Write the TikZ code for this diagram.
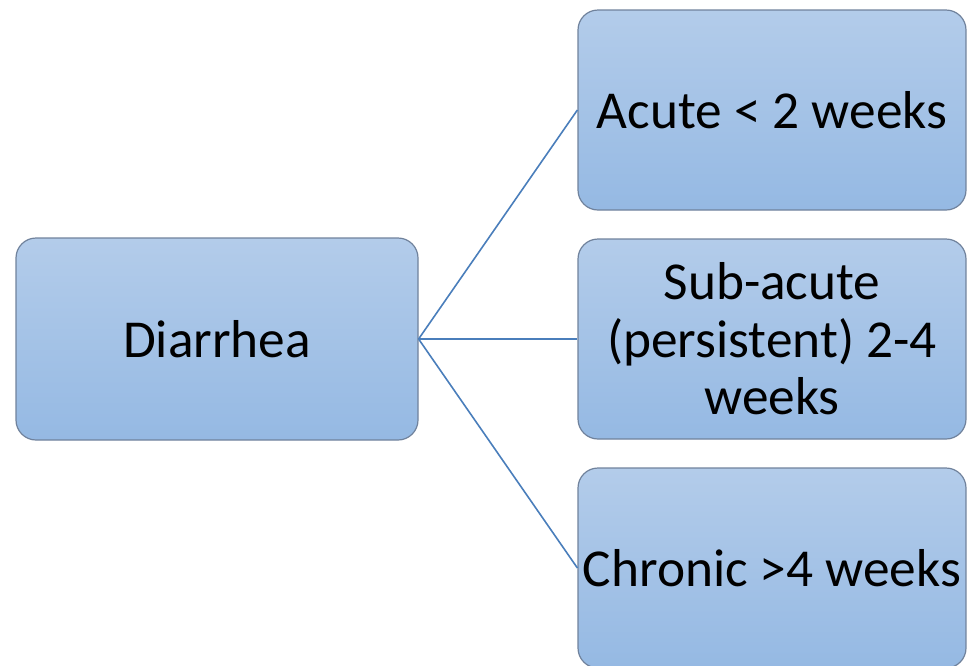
\documentclass[tikz,border=0pt]{standalone}
\usepackage{fontspec}
\setmainfont{Carlito}
\usepackage{tikz}
\definecolor{boxtop}{RGB}{179,204,234}
\definecolor{boxbottom}{RGB}{149,185,227}
\definecolor{boxline}{RGB}{112,130,156}
\definecolor{linkblue}{RGB}{74,126,187}
\newcommand{\oneline}[1]{\hbox to \hsize{\hss#1\hss}}

\begin{document}
\begin{tikzpicture}[every node/.style={rectangle, rounded corners=15pt, draw=boxline, line width=0.9pt,
				   top color=boxtop, bottom color=boxbottom, align=flush center, inner sep=4pt,
				   minimum height=150pt, text width=283pt, font=\fontsize{40}{43}\selectfont},
				   grow'=right, level distance=416.25pt, sibling distance=171.75pt,
				   edge from parent/.style={draw=linkblue, line width=1.2pt},
				   edge from parent path={(\tikzparentnode.east) -- (\tikzchildnode.west)}]
\useasboundingbox (0,0) rectangle (725.25pt,-498.75pt);
\clip (0,0) rectangle (725.25pt,-498.75pt);
\node[text width=293.5pt, minimum height=151.5pt] (diarrhea) at (162.75pt,-254.25pt) {Diarrhea}
	child {node (acute) {\oneline{Acute < 2 weeks}}}
	child {node (subacute) {Sub-acute\\(persistent) 2-4\\weeks}}
	child {node (chronic) {\oneline{Chronic >4 weeks}}}
;
\end{tikzpicture}
\end{document}
